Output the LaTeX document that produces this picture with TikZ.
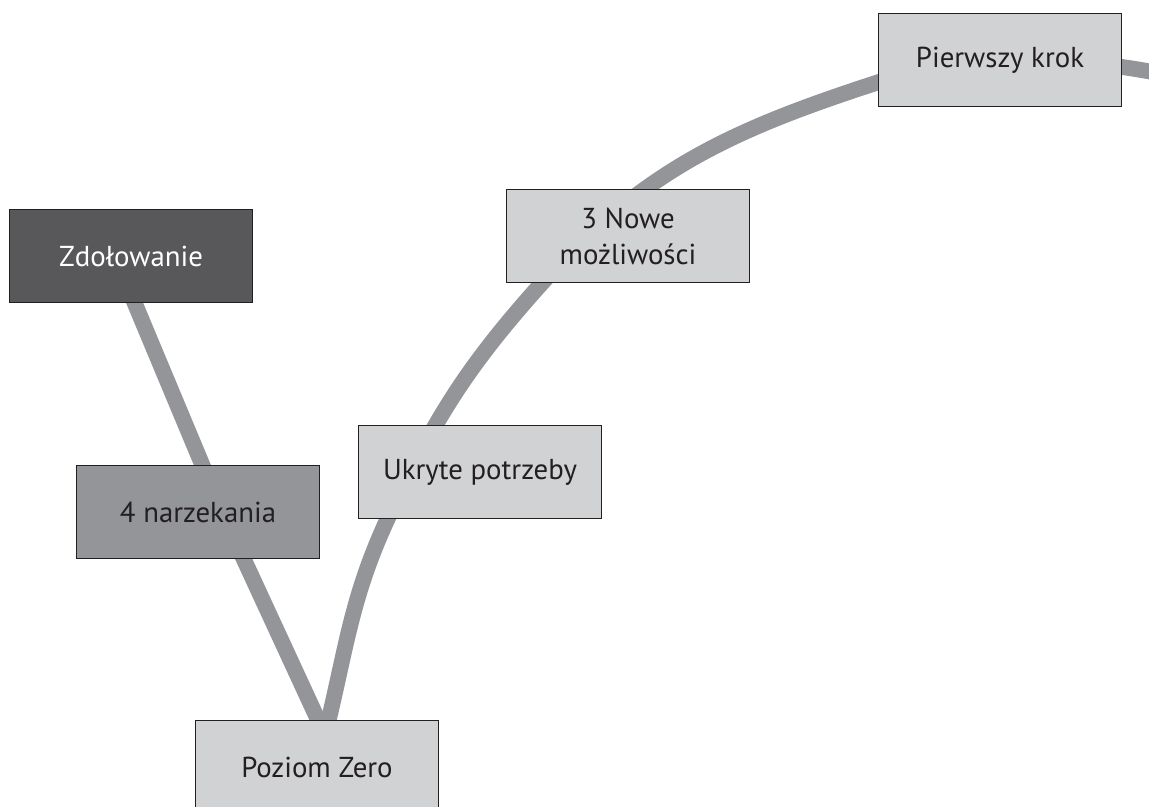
\documentclass[tikz,border=0pt]{standalone}
\usepackage{fontspec}
\setmainfont{PT Sans}
\usepackage{tikz}
\usetikzlibrary{calc}

\definecolor{boxlight}{HTML}{D1D2D4}
\definecolor{boxmid}{HTML}{939598}
\definecolor{boxdark}{HTML}{58585A}
\definecolor{ink}{HTML}{231F20}
\definecolor{trackgray}{HTML}{939598}
\pgfdeclarelayer{back}
\pgfsetlayers{back,main}

\begin{document}
\begin{tikzpicture}[x=0.02cm, y=-0.02cm,
        stage/.style={draw=ink, line width=0.7pt, fill=boxlight, text=ink, minimum width=4.86cm, minimum height=1.86cm, inner sep=0pt, align=center, font=\fontsize{16.4}{20.5}\selectfont},
        track/.style={line width=9pt, trackgray}]
        \useasboundingbox (0,0) rectangle (1149,807);
        \node[stage, fill=boxdark, text=white](zd) at (131,256) {Zdołowanie};
        \node[stage, fill=boxmid](narz) at (198,512) {4 narzekania};
        \node[stage](zero) at (317,767) {Poziom Zero};
        \node[stage](ukr) at (480,472) {Ukryte potrzeby};
        \node[stage](nowe) at (628,236) {3 Nowe\\możliwości};
        \node[stage](krok) at (1000,60) {Pierwszy krok};
        \coordinate (tip) at ($(zero)+(8,-32)$);
        \coordinate (edge) at (1165,74);
        % the V and the rising curve, behind the boxes
        \begin{pgfonlayer}{back}
        \draw[track]($(zd)+(-16,0)$)--($(narz)+(24,0)$)--(tip);
        \draw[track](tip) to[out=76,in=245] ($(ukr)+(-92,46)$) to[out=65,in=228] ($(nowe)+(-86,47)$)
            to[out=48,in=198] ($(krok)+(-121,22)$) to[out=18,in=175] ($(krok)+(122,7)$) to[out=-8,in=171] (edge);
        \end{pgfonlayer}
    \end{tikzpicture}
\end{document}
